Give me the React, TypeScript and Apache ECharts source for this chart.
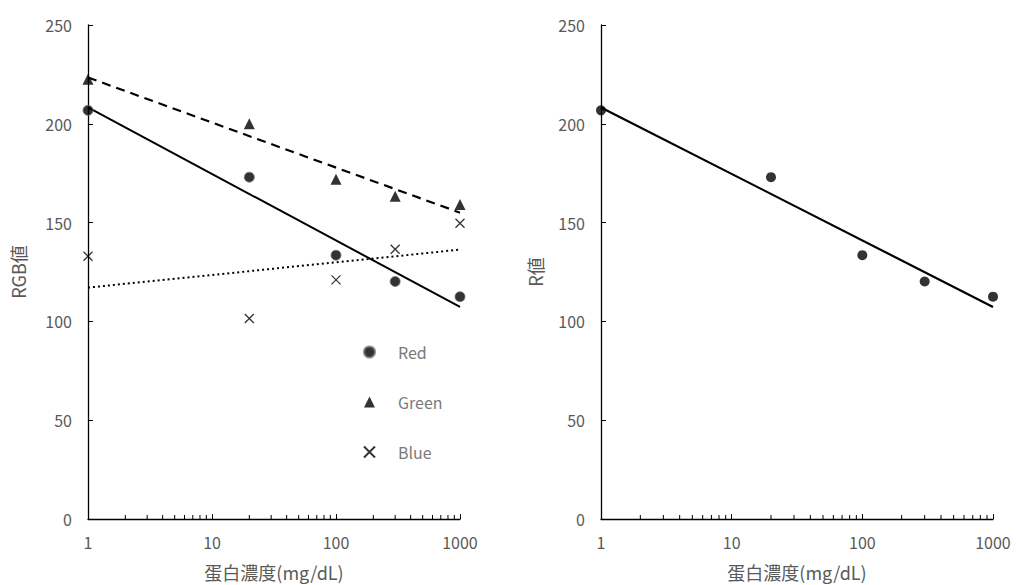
import React, { useEffect, useRef } from "react";
import * as echarts from "echarts";

const X_VALUES = [1, 20, 100, 300, 1000];
const RED = [206.8, 173, 133.5, 120.2, 112.5];
const GREEN = [222.5, 200, 172, 163.3, 159.2];
const BLUE = [133, 101.5, 121, 136.5, 149.7];
const SERIES_NAMES = ["Red", "Green", "Blue"];
const X_MIN = 1;
const X_MAX = 1000;
const Y_MIN = 0;
const Y_MAX = 250;
const Y_INTERVAL = 50;
const MINOR_TICKS = [2, 3, 4, 5, 6, 7, 8, 9, 20, 30, 40, 50, 60, 70, 80, 90, 200, 300, 400, 500, 600, 700, 800, 900];
const X_TITLE = "蛋白濃度(mg/dL)";
const Y_TITLE_LEFT = "RGB値";
const Y_TITLE_RIGHT = "R値";

const FONT = "'Noto Sans CJK JP', 'Noto Sans', sans-serif";
const LABEL_COLOR = "#595959";
const LEGEND_COLOR = "#7a7a7a";

// Logarithmic least-squares trend line: y = a + b*log10(x)
function logFit(xs: number[], ys: number[]): [number, number] {
  const lx = xs.map((v) => Math.log10(v));
  const n = lx.length;
  const mx = lx.reduce((s, v) => s + v, 0) / n;
  const my = ys.reduce((s, v) => s + v, 0) / n;
  let sxy = 0;
  let sxx = 0;
  for (let i = 0; i < n; i++) {
    sxy += (lx[i] - mx) * (ys[i] - my);
    sxx += (lx[i] - mx) * (lx[i] - mx);
  }
  const b = sxy / sxx;
  return [my - b * mx, b];
}

function trendPoints(ys: number[]): number[][] {
  const [a, b] = logFit(X_VALUES, ys);
  return [X_MIN, X_MAX].map((x) => [x, a + b * Math.log10(x)]);
}

const pairs = (ys: number[]) => X_VALUES.map((x, i) => [x, ys[i]]);

const CROSS = "path://M0,0L10,10M10,0L0,10";

function xAxis(gridIndex: number) {
  return {
    type: "log",
    logBase: 10,
    gridIndex,
    min: X_MIN,
    max: X_MAX,
    name: X_TITLE,
    nameLocation: "middle",
    nameGap: 44,
    nameTextStyle: { fontFamily: FONT, fontSize: 18, color: LABEL_COLOR },
    axisLine: { show: true, lineStyle: { color: "#000", width: 1.3 } },
    axisTick: { show: true, inside: true, length: 5, lineStyle: { color: "#000", width: 1 } },
    axisLabel: {
      margin: 15,
      fontFamily: FONT,
      fontSize: 16,
      color: LABEL_COLOR,
      formatter: (v: number) => String(v),
    },
    splitLine: { show: false },
    minorTick: { show: false },
  };
}

function yAxis(gridIndex: number, name: string, gap: number) {
  return {
    type: "value",
    gridIndex,
    min: Y_MIN,
    max: Y_MAX,
    interval: Y_INTERVAL,
    name,
    nameLocation: "middle",
    nameGap: gap,
    nameRotate: 90,
    nameTextStyle: { fontFamily: FONT, fontSize: 18, color: LABEL_COLOR },
    axisLine: { show: true, lineStyle: { color: "#000", width: 1.3 } },
    axisTick: { show: true, inside: true, length: 5, lineStyle: { color: "#000", width: 1 } },
    axisLabel: { margin: 16, fontFamily: FONT, fontSize: 16, color: LABEL_COLOR },
    splitLine: { show: false },
  };
}

function minorTickSeries(idx: number) {
  return {
    type: "custom",
    xAxisIndex: idx,
    yAxisIndex: idx,
    silent: true,
    clip: false,
    data: MINOR_TICKS.map((v) => [v, Y_MIN]),
    renderItem: (_p: any, api: any) => {
      const pt = api.coord([api.value(0), api.value(1)]);
      return {
        type: "line",
        shape: { x1: pt[0], y1: pt[1], x2: pt[0], y2: pt[1] - 4 },
        style: { stroke: "#000", lineWidth: 1 },
      };
    },
    z: 1,
  };
}

export default function App() {
  const ref = useRef<HTMLDivElement>(null);
  useEffect(() => {
    document.body.style.margin = "0";
    const chart = echarts.init(ref.current!, undefined, { renderer: "svg" });
    chart.setOption({
      animation: false,
      backgroundColor: "#fff",
      textStyle: { fontFamily: FONT },
      grid: [
        { left: 88, right: 556, top: 25, bottom: 66, containLabel: false, outerBoundsMode: "none" },
        { left: 601, right: 23, top: 25, bottom: 66, containLabel: false, outerBoundsMode: "none" },
      ],
      xAxis: [xAxis(0), xAxis(1)],
      yAxis: [yAxis(0, Y_TITLE_LEFT, 61), yAxis(1, Y_TITLE_RIGHT, 57)],
      legend: {
        orient: "vertical",
        left: 358,
        top: 339,
        itemGap: 34,
        itemWidth: 11,
        itemHeight: 11,
        data: SERIES_NAMES,
        textStyle: { fontFamily: FONT, fontSize: 16, color: LEGEND_COLOR, padding: [0, 0, 0, 18] },
      },
      series: [
        minorTickSeries(0),
        minorTickSeries(1),
        {
          name: "RedTrend",
          type: "line",
          xAxisIndex: 0,
          yAxisIndex: 0,
          data: trendPoints(RED),
          showSymbol: false,
          lineStyle: { color: "#000", width: 2 },
          silent: true,
        },
        {
          name: "GreenTrend",
          type: "line",
          xAxisIndex: 0,
          yAxisIndex: 0,
          data: trendPoints(GREEN),
          showSymbol: false,
          lineStyle: { color: "#000", width: 2.2, type: [9, 6] },
          silent: true,
        },
        {
          name: "BlueTrend",
          type: "line",
          xAxisIndex: 0,
          yAxisIndex: 0,
          data: trendPoints(BLUE),
          showSymbol: false,
          lineStyle: { color: "#000", width: 2, type: [2, 3] },
          silent: true,
        },
        {
          name: "Red",
          type: "scatter",
          xAxisIndex: 0,
          yAxisIndex: 0,
          data: pairs(RED),
          symbol: "circle",
          symbolSize: 10,
          itemStyle: { color: "#000", borderColor: "#777", borderWidth: 1 },
          z: 3,
        },
        {
          name: "Green",
          type: "scatter",
          xAxisIndex: 0,
          yAxisIndex: 0,
          data: pairs(GREEN),
          symbol: "triangle",
          symbolSize: 11,
          itemStyle: { color: "#000" },
          z: 3,
        },
        {
          name: "Blue",
          type: "scatter",
          xAxisIndex: 0,
          yAxisIndex: 0,
          data: pairs(BLUE),
          symbol: CROSS,
          symbolSize: 9,
          itemStyle: { color: "rgba(0,0,0,0)", borderColor: "#000", borderWidth: 1.3 },
          z: 3,
        },
        {
          name: "RightTrend",
          type: "line",
          xAxisIndex: 1,
          yAxisIndex: 1,
          data: trendPoints(RED),
          showSymbol: false,
          lineStyle: { color: "#000", width: 2.2 },
          silent: true,
        },
        {
          name: "R",
          type: "scatter",
          xAxisIndex: 1,
          yAxisIndex: 1,
          data: pairs(RED),
          symbol: "circle",
          symbolSize: 10,
          itemStyle: { color: "#000" },
          z: 3,
        },
      ],
    });
    return () => chart.dispose();
  }, []);
  return <div ref={ref} style={{ width: 1016, height: 585, position: "absolute", left: 0, top: 0 }} />;
}
